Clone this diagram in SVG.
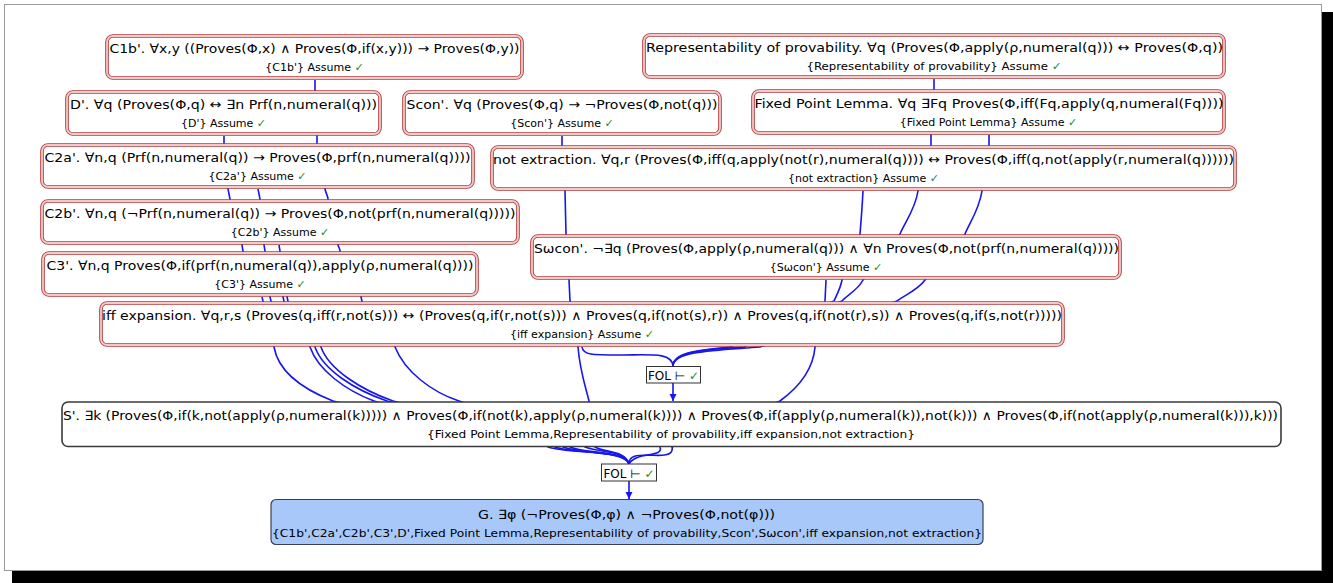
<svg xmlns="http://www.w3.org/2000/svg" width="1333" height="583" viewBox="0 0 1333 583">
<style>
.b1{fill:#fff;stroke:#b53a3a;stroke-width:3.6}
.b2{fill:none;stroke:#efcaca;stroke-width:1.8}
.t{font-family:"DejaVu Sans","Liberation Sans",sans-serif;font-size:13px;text-anchor:middle;fill:#000}
.s{font-size:11px}
.f{font-size:12px}
.ck{fill:#1e8a1e}
.e{fill:none;stroke:#1616ee;stroke-width:1.6}
.fol{fill:#fff;stroke:#333;stroke-width:1}
</style>
<defs>
<marker id="ah" markerWidth="8" markerHeight="8" refX="7" refY="3.5" orient="auto" markerUnits="userSpaceOnUse"><path d="M0,0 L7,3.5 L0,7 z" fill="#1616ee"/></marker>
</defs>
<rect x="0" y="0" width="1333" height="583" fill="#fff"/>
<rect x="12" y="12" width="1321" height="571" fill="#000"/>
<rect x="4.5" y="4.5" width="1317" height="566" fill="#fff" stroke="#999" stroke-width="1"/>
<g id="connectors">
<path class="e" d="M934,79 L934,89 L931,135 L931,145 L918,191 C915,210 905,222 900,234 L880,260 L863,280 C858,290 846,296 842,301 L760,330 L745,347 C715,349 673,350 673,366"/>
<path class="e" d="M989,135 L989,145 L982,191 C979,210 970,222 965,234 L925,280 C918,290 903,296 897,301 L760,347 C725,350 673,350 673,366"/>
<path class="e" d="M863,191 C862,210 861,222 860,234 L842,280 C840,290 836,296 834,301 L730,347 C705,350 673,351 673,366"/>
<path class="e" d="M582,347 C583,355 592,355 620,355 C650,355 672,352 673,366"/>
<path class="e" d="M826,280 L825,301 L815,347 C813,372 795,390 780,401 L672,447 C674,456 662,456 648,455 C636,455 629,456 629,464"/>
<path class="e" d="M660,447 C664,458 636,451 629,464"/>
<path class="e" d="M562,136 L562,145 L565,191 L566,234 L569,280 L570,301 L578,347 C580,372 586,388 589,401 L595,447 C605,453 625,450 629,464"/>
<path class="e" d="M315,80 L315,90 C315,113 317,113 317,136 L317,143 C317,166 325,166 325,189 C326,194 328,196 328,199 C328,222 338,222 338,245 C339,248 340,249 340,251 C340,274 361,274 361,297 L362,301 C362,324 395,324 395,347 C405,372 432,392 459,401 C520,420 585,430 585,447 C600,453 625,450 629,464"/>
<path class="e" d="M224,136 L224,143 C224,166 228,166 228,189 L230,199 C230,222 242,222 242,245 L243,251 C243,274 270,274 270,297 L271,301 C271,324 310,324 310,347 C318,370 345,390 374,401 C450,425 555,430 555,447 C575,454 625,450 629,464"/>
<path class="e" d="M258,189 L260,199 C260,222 264,222 264,245 L265,251 C265,274 283,274 283,297 L284,301 C284,324 315,324 315,347 C323,370 355,390 387,401 C470,425 563,430 563,447 C580,454 625,450 629,464"/>
<path class="e" d="M279,245 L280,251 C280,274 287,274 287,297 L288,301 C288,324 321,324 321,347 C329,370 362,390 393,401 C480,425 570,430 570,447 C585,454 625,450 629,464"/>
<path class="e" d="M262,297 L263,301 C263,324 274,324 274,347 C278,370 300,388 333,401 C420,425 548,430 548,447 C570,454 625,450 629,464"/>
<path class="e" d="M673,383 L673,401" marker-end="url(#ah)"/>
<path class="e" d="M629,481 L629,499" marker-end="url(#ah)"/>
</g>
<g id="n-c1b">
<rect class="b1" x="107" y="36" width="415" height="42" rx="6"/><rect class="b2" x="107" y="36" width="415" height="42" rx="6"/>
<text class="t" x="314.5" y="53" textLength="410" lengthAdjust="spacingAndGlyphs">C1b'. ∀x,y ((Proves(Φ,x) ∧ Proves(Φ,if(x,y))) → Proves(Φ,y))</text>
<text class="t s" x="314.5" y="71">{C1b'} Assume <tspan class="ck">✓</tspan></text>
</g>
<g id="n-rep">
<rect class="b1" x="644" y="35" width="580" height="42" rx="6"/><rect class="b2" x="644" y="35" width="580" height="42" rx="6"/>
<text class="t" x="934.5" y="52" textLength="577" lengthAdjust="spacingAndGlyphs">Representability of provability. ∀q (Proves(Φ,apply(ρ,numeral(q))) ↔ Proves(Φ,q))</text>
<text class="t s" x="934" y="70" textLength="255" lengthAdjust="spacingAndGlyphs">{Representability of provability} Assume <tspan class="ck">✓</tspan></text>
</g>
<g id="n-d">
<rect class="b1" x="67" y="92" width="313" height="42" rx="6"/><rect class="b2" x="67" y="92" width="313" height="42" rx="6"/>
<text class="t" x="223.5" y="109" textLength="307" lengthAdjust="spacingAndGlyphs">D'. ∀q (Proves(Φ,q) ↔ ∃n Prf(n,numeral(q)))</text>
<text class="t s" x="223.5" y="127">{D'} Assume <tspan class="ck">✓</tspan></text>
</g>
<g id="n-scon">
<rect class="b1" x="404" y="92" width="316" height="42" rx="6"/><rect class="b2" x="404" y="92" width="316" height="42" rx="6"/>
<text class="t" x="562" y="109" textLength="311" lengthAdjust="spacingAndGlyphs">Scon'. ∀q (Proves(Φ,q) → ¬Proves(Φ,not(q)))</text>
<text class="t s" x="562" y="127">{Scon'} Assume <tspan class="ck">✓</tspan></text>
</g>
<g id="n-fpl">
<rect class="b1" x="753" y="91" width="471" height="42" rx="6"/><rect class="b2" x="753" y="91" width="471" height="42" rx="6"/>
<text class="t" x="989" y="108" textLength="469" lengthAdjust="spacingAndGlyphs">Fixed Point Lemma. ∀q ∃Fq Proves(Φ,iff(Fq,apply(q,numeral(Fq))))</text>
<text class="t s" x="988.5" y="126">{Fixed Point Lemma} Assume <tspan class="ck">✓</tspan></text>
</g>
<g id="n-c2a">
<rect class="b1" x="42" y="145" width="431" height="42" rx="6"/><rect class="b2" x="42" y="145" width="431" height="42" rx="6"/>
<text class="t" x="257.5" y="162" textLength="426" lengthAdjust="spacingAndGlyphs">C2a'. ∀n,q (Prf(n,numeral(q)) → Proves(Φ,prf(n,numeral(q))))</text>
<text class="t s" x="257.5" y="180">{C2a'} Assume <tspan class="ck">✓</tspan></text>
</g>
<g id="n-notext">
<rect class="b1" x="492" y="147" width="743" height="42" rx="6"/><rect class="b2" x="492" y="147" width="743" height="42" rx="6"/>
<text class="t" x="863.5" y="164" textLength="741" lengthAdjust="spacingAndGlyphs">not extraction. ∀q,r (Proves(Φ,iff(q,apply(not(r),numeral(q)))) ↔ Proves(Φ,iff(q,not(apply(r,numeral(q))))))</text>
<text class="t s" x="863.5" y="182">{not extraction} Assume <tspan class="ck">✓</tspan></text>
</g>
<g id="n-c2b">
<rect class="b1" x="42" y="201" width="476" height="42" rx="6"/><rect class="b2" x="42" y="201" width="476" height="42" rx="6"/>
<text class="t" x="280" y="218" textLength="471" lengthAdjust="spacingAndGlyphs">C2b'. ∀n,q (¬Prf(n,numeral(q)) → Proves(Φ,not(prf(n,numeral(q)))))</text>
<text class="t s" x="280" y="236">{C2b'} Assume <tspan class="ck">✓</tspan></text>
</g>
<g id="n-swcon">
<rect class="b1" x="532" y="236" width="588" height="42" rx="6"/><rect class="b2" x="532" y="236" width="588" height="42" rx="6"/>
<text class="t" x="826.5" y="253" textLength="585" lengthAdjust="spacingAndGlyphs">Sωcon'. ¬∃q (Proves(Φ,apply(ρ,numeral(q))) ∧ ∀n Proves(Φ,not(prf(n,numeral(q)))))</text>
<text class="t s" x="826" y="271">{Sωcon'} Assume <tspan class="ck">✓</tspan></text>
</g>
<g id="n-c3">
<rect class="b1" x="43" y="253" width="434" height="42" rx="6"/><rect class="b2" x="43" y="253" width="434" height="42" rx="6"/>
<text class="t" x="260" y="270" textLength="427" lengthAdjust="spacingAndGlyphs">C3'. ∀n,q Proves(Φ,if(prf(n,numeral(q)),apply(ρ,numeral(q))))</text>
<text class="t s" x="260" y="288">{C3'} Assume <tspan class="ck">✓</tspan></text>
</g>
<g id="n-iff">
<rect class="b1" x="101" y="303" width="962" height="42" rx="6"/><rect class="b2" x="101" y="303" width="962" height="42" rx="6"/>
<text class="t" x="582" y="320" textLength="960" lengthAdjust="spacingAndGlyphs">iff expansion. ∀q,r,s (Proves(q,iff(r,not(s))) ↔ (Proves(q,if(r,not(s))) ∧ Proves(q,if(not(s),r)) ∧ Proves(q,if(not(r),s)) ∧ Proves(q,if(s,not(r)))))</text>
<text class="t s" x="582" y="338">{iff expansion} Assume <tspan class="ck">✓</tspan></text>
</g>
<g id="n-fol1">
<rect class="fol" x="646.5" y="366.5" width="54" height="16.5"/>
<text class="t f" x="673.5" y="379.5">FOL ⊢ <tspan class="ck">✓</tspan></text>
</g>
<g id="n-s">
<rect x="62" y="402" width="1219" height="44.5" rx="6" fill="#fff" stroke="#3a3a3a" stroke-width="1.6"/>
<text class="t" x="670.5" y="420" textLength="1215" lengthAdjust="spacingAndGlyphs">S'. ∃k (Proves(Φ,if(k,not(apply(ρ,numeral(k))))) ∧ Proves(Φ,if(not(k),apply(ρ,numeral(k)))) ∧ Proves(Φ,if(apply(ρ,numeral(k)),not(k))) ∧ Proves(Φ,if(not(apply(ρ,numeral(k))),k)))</text>
<text class="t s" x="671" y="438" textLength="488" lengthAdjust="spacingAndGlyphs">{Fixed Point Lemma,Representability of provability,iff expansion,not extraction}</text>
</g>
<g id="n-fol2">
<rect class="fol" x="601.5" y="464" width="55" height="17"/>
<text class="t f" x="629" y="477.5">FOL ⊢ <tspan class="ck">✓</tspan></text>
</g>
<g id="n-g">
<rect x="271" y="499.5" width="712" height="45" rx="5" fill="#a8c8fa" stroke="#3a3f55" stroke-width="1.2"/>
<text class="t" x="626.5" y="518.5" textLength="297" lengthAdjust="spacingAndGlyphs">G. ∃φ (¬Proves(Φ,φ) ∧ ¬Proves(Φ,not(φ)))</text>
<text class="t s" x="627" y="537" textLength="710" lengthAdjust="spacingAndGlyphs">{C1b',C2a',C2b',C3',D',Fixed Point Lemma,Representability of provability,Scon',Sωcon',iff expansion,not extraction}</text>
</g>
</svg>
